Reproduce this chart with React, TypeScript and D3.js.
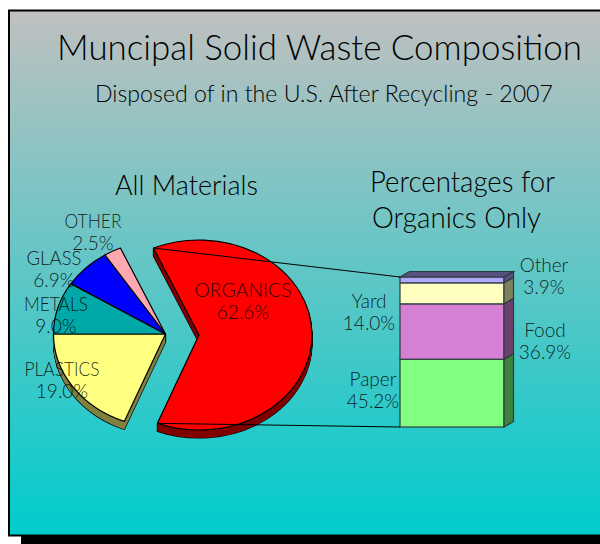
import React from 'react'
import * as d3 from 'd3'

const materials = ['PLASTICS', 'METALS', 'GLASS', 'OTHER', 'ORGANICS']
const materialValues = [19.0, 9.0, 6.9, 2.5, 62.6]
const materialColors = ['#ffff80', '#00a8a8', '#0000ff', '#ffa8b0', '#ff0000']
const materialSides = ['#808040', null, null, null, '#800000']
const materialLabelX = [62, 56, 54, 93, 243]
const materialLabelY = [376, 311, 265, 228, 297]
const materialLabelW = [75, 64, 55, 57, 97]

const organics = ['Paper', 'Food', 'Yard', 'Other']
const organicValues = [45.2, 36.9, 14.0, 3.9]
const organicColors = ['#80ff80', '#d580d5', '#ffffc0', '#b0a8ff']
const organicSides = ['#408040', '#6b406b', '#808060', '#58507f']
const organicLabelX = [373, 545, 369, 544]
const organicLabelY = [386, 337, 308, 272]

const W = 600
const H = 544
const FONT = 'Lato, "Open Sans", sans-serif'
const depth = 8

const smallPie = { cx: 165.5, cy: 334, rx: 112, ry: 94 }
const bigPie = { cx: 199, cy: 335, rx: 113, ry: 95 }

const barX = 400
const barW = 104
const barDx = 9.5
const barDy = 5.5
const barY = d3.scaleLinear().domain([0, 100]).range([427, 277])

const pieStart = 1.5 * Math.PI - 2 * Math.PI * materialValues[0] / d3.sum(materialValues)
const slices = d3.pie<number>()
  .sort(null)
  .startAngle(pieStart)
  .endAngle(pieStart + 2 * Math.PI)(materialValues)

const stacked = d3.stack<any>()
  .keys(organics)(
    [Object.fromEntries(organics.map((k, i) => [k, organicValues[i]]))]
  )

const rimPoint = (p: typeof bigPie, angle: number) => [
  p.cx + p.rx * Math.sin(angle),
  p.cy - p.ry * Math.cos(angle),
]

const Label = ({ x, y, name, value, nameWidth }: any) => (
  <g fontSize={19} fontWeight={300} fontFamily={FONT} fill="#000" fillOpacity={0.85} textAnchor="middle">
    <text x={x} y={y} textLength={nameWidth} lengthAdjust={nameWidth ? 'spacingAndGlyphs' : undefined}>{name}</text>
    <text x={x} y={y + 22}>{value.toFixed(1)}%</text>
  </g>
)

const Slice = ({ d, i }: any) => {
  const p = i === 4 ? bigPie : smallPie
  const path = d3.arc<any>().innerRadius(0).outerRadius(p.rx)(d) as string
  const tf = (dy: number) => `translate(${p.cx},${p.cy + dy}) scale(1,${p.ry / p.rx})`
  const side = materialSides[i]
  const steps = side ? d3.range(depth, 0, -1) : []
  return (
    <g>
      {steps.map(s => (
        <path key={'o' + s} d={path} transform={tf(s)} fill="none" stroke="#000" strokeWidth={1.2}
          vectorEffect="non-scaling-stroke" />
      ))}
      {steps.map(s => (
        <path key={'f' + s} d={path} transform={tf(s)} fill={side as string} />
      ))}
      <path d={path} transform={tf(0)} fill={materialColors[i]} stroke="#000" strokeWidth={1.2}
        strokeLinejoin="round" vectorEffect="non-scaling-stroke" />
    </g>
  )
}

export default function App() {
  const organicSlice = slices[4]
  const upper = rimPoint(bigPie, organicSlice.startAngle)
  const lower = rimPoint(bigPie, organicSlice.endAngle)
  const barStroke = '#2c3c3c'

  return (
    <svg width={W} height={H} style={{ position: 'absolute', left: 0, top: 0 }}>
      <defs>
        <linearGradient id="bg" x1="0" y1="0" x2="0" y2="1">
          <stop offset="0" stopColor="#c0c0c0" />
          <stop offset="1" stopColor="#00cccc" />
        </linearGradient>
      </defs>
      <rect x={21} y={30} width={W} height={H} fill="#000" />
      <rect x={9} y={10.5} width={W} height={525} fill="url(#bg)" stroke="#000" strokeWidth={2} />

      <text x={57} y={60} fontSize={36} fontWeight={300} fontFamily={FONT} textLength={525} lengthAdjust="spacingAndGlyphs">Muncipal Solid Waste Composition</text>
      <text x={95} y={102} fontSize={24} fontWeight={300} fontFamily={FONT} textLength={458} lengthAdjust="spacingAndGlyphs">Disposed of in the U.S. After Recycling - 2007</text>
      <text x={115} y={195} fontSize={27} fontWeight={300} fontFamily={FONT} textLength={143} lengthAdjust="spacingAndGlyphs">All Materials</text>
      <text x={370} y={192} fontSize={29} fontWeight={300} fontFamily={FONT} textLength={185} lengthAdjust="spacingAndGlyphs">Percentages for</text>
      <text x={372} y={228} fontSize={29} fontWeight={300} fontFamily={FONT} textLength={169} lengthAdjust="spacingAndGlyphs">Organics Only</text>

      {slices.map((d, i) => <Slice key={materials[i]} d={d} i={i} />)}

      {stacked.map((s, i) => {
        const y0 = barY(s[0][0])
        const y1 = barY(s[0][1])
        const side = d3.line()([
          [barX + barW, y0], [barX + barW + barDx, y0 - barDy],
          [barX + barW + barDx, y1 - barDy], [barX + barW, y1],
        ]) + 'Z'
        return (
          <g key={organics[i]} stroke={barStroke} strokeWidth={1.2}>
            <rect x={barX} y={y1} width={barW} height={y0 - y1} fill={organicColors[i]} />
            <path d={side} fill={organicSides[i]} />
          </g>
        )
      })}
      <path
        d={d3.line()([
          [barX, barY(100)], [barX + barDx, barY(100) - barDy],
          [barX + barW + barDx, barY(100) - barDy], [barX + barW, barY(100)],
        ]) + 'Z'}
        fill={organicSides[3]} stroke={barStroke} strokeWidth={1.2}
      />

      <line x1={upper[0]} y1={upper[1]} x2={barX} y2={barY(100)} stroke="#000" strokeWidth={1} />
      <line x1={lower[0]} y1={lower[1]} x2={barX} y2={barY(0)} stroke="#000" strokeWidth={1} />

      {materials.map((m, i) => (
        <Label key={m} x={materialLabelX[i]} y={materialLabelY[i]} name={m}
          value={materialValues[i]} nameWidth={materialLabelW[i]} />
      ))}
      {organics.map((m, i) => (
        <Label key={m} x={organicLabelX[i]} y={organicLabelY[i]} name={m} value={organicValues[i]} />
      ))}
    </svg>
  )
}
